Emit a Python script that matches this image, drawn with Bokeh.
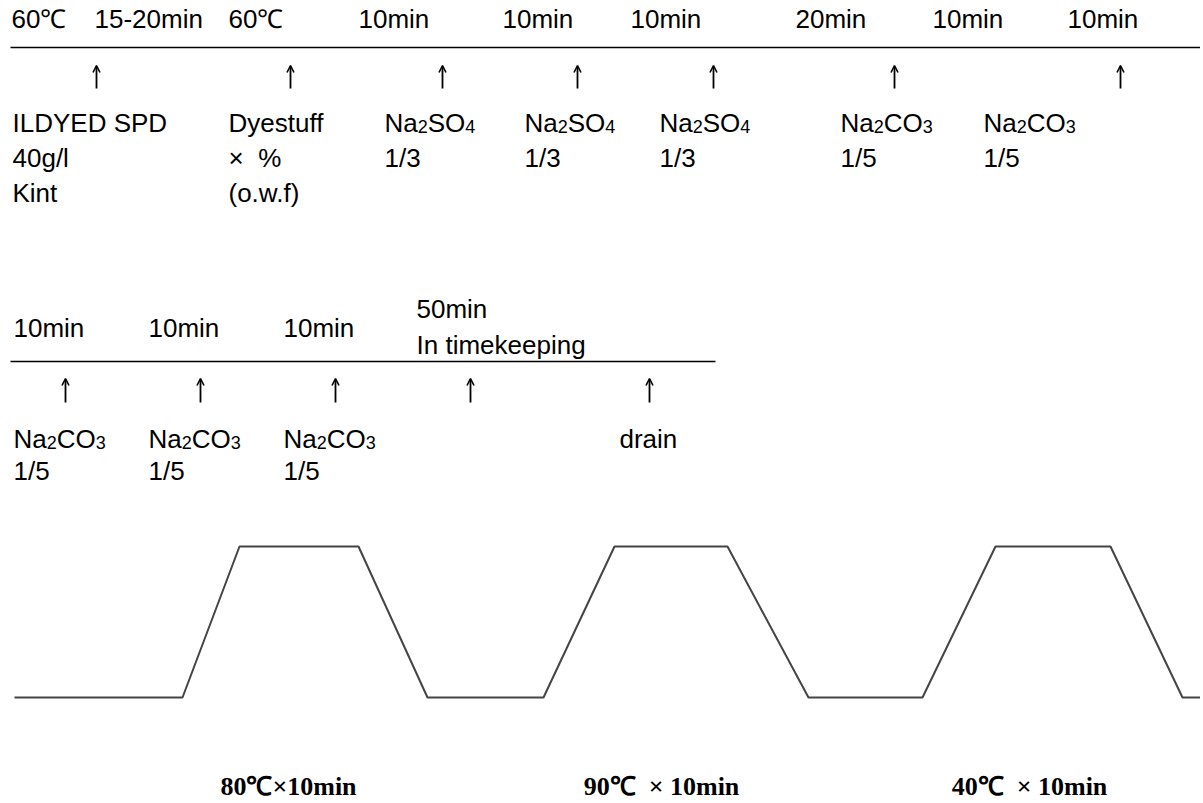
from bokeh.plotting import figure
from bokeh.models import Range1d, ColumnDataSource, Arrow, OpenHead
from bokeh.core.properties import value
from bokeh.embed import file_html
from bokeh.resources import INLINE

# ---- data (process schedule) ----
row1_times = ["60℃", "15-20min", "60℃", "10min", "10min", "10min", "20min", "10min", "10min"]
row1_pos = [11, 94, 228, 358, 502, 630, 795, 932, 1067]
row1_arrows = [96, 290, 442, 577, 713, 894, 1120]
row1_adds_pos = [12, 228, 384, 524, 659, 840, 983]
row1_adds_l1 = ["ILDYED SPD", "Dyestuff", "Na_2SO_4", "Na_2SO_4", "Na_2SO_4", "Na_2CO_3", "Na_2CO_3"]
row1_adds_l2 = ["40g/l", "×\u00a0\u00a0%", "1/3", "1/3", "1/3", "1/5", "1/5"]
row1_adds_l3 = ["Kint", "(o.w.f)", "", "", "", "", ""]

row2_times = ["10min", "10min", "10min"]
row2_pos = [13, 148, 283]
row2_hold = ["50min", "In timekeeping"]
row2_hold_pos = 416
row2_arrows = [65, 200, 335, 470, 649]
row2_adds_pos = [13, 148, 283, 619]
row2_adds_l1 = ["Na_2CO_3", "Na_2CO_3", "Na_2CO_3", "drain"]
row2_adds_l2 = ["1/5", "1/5", "1/5", ""]

# wash profile: time axis points and level (0 = low, 1 = high)
profile_t = [14, 182, 239, 358, 427, 543, 614, 727, 808, 922, 995, 1110, 1182, 1210]
profile_level = [0, 0, 1, 1, 0, 0, 1, 1, 0, 0, 1, 1, 0, 0]
wash_labels = ["80℃×10min", "90℃\u00a0 × 10min", "40℃\u00a0 × 10min"]
wash_pos = [288, 661, 1029]

# ---- figure ----
W, H = 1200, 800
p = figure(width=W, height=H, output_backend="svg", toolbar_location=None,
           x_range=Range1d(0, W), y_range=Range1d(H, 0),
           min_border=0)
p.axis.visible = False
p.grid.visible = False
p.outline_line_color = None
p.background_fill_color = "white"
p.border_fill_color = "white"

FONT = value("Liberation Sans")
FSN = 26
FS = f"{FSN}px"
SUBN = 18
SHIFT = -10  # compensates the renderer's baseline placement

# Arial/Liberation Sans advance widths (em units)
ADV = {"N": .722, "a": .556, "S": .667, "O": .778, "C": .722, "2": .556, "3": .556, "4": .556}

def txt(xs, ys, texts, **kw):
    src = ColumnDataSource(dict(x=xs, y=[v + SHIFT for v in ys], t=texts))
    args = dict(text_font=FONT, text_font_size=FS, text_color="black",
                text_baseline="alphabetic", text_align="left")
    args.update(kw)
    p.text(x="x", y="y", text="t", source=src, **args)

def rich(xs, ys, texts):
    """Plain labels, or formulas where '_d' marks a subscript digit."""
    main = dict(x=[], y=[], t=[], dx=[])
    sub = dict(x=[], y=[], t=[], dx=[])
    for x, y, s in zip(xs, ys, texts):
        y = y + SHIFT
        if "_" not in s:
            main["x"].append(x); main["y"].append(y); main["t"].append(s); main["dx"].append(0)
            continue
        off = 0.0
        parts = s.split("_")
        for i, part in enumerate(parts):
            if i == 0:
                seg = part
            else:
                d, seg = part[0], part[1:]
                sub["x"].append(x); sub["y"].append(y + 4); sub["t"].append(d); sub["dx"].append(off)
                off += ADV[d] * SUBN
            if seg:
                main["x"].append(x); main["y"].append(y); main["t"].append(seg); main["dx"].append(off)
                off += sum(ADV.get(c, .6) for c in seg) * FSN
    p.text(x="x", y="y", text="t", x_offset="dx", source=ColumnDataSource(main),
           text_font=FONT, text_font_size=FS, text_color="black",
           text_baseline="alphabetic", text_align="left")
    p.text(x="x", y="y", text="t", x_offset="dx", source=ColumnDataSource(sub),
           text_font=FONT, text_font_size=f"{SUBN}px", text_color="black",
           text_baseline="alphabetic", text_align="left")

def arrows(xs, y_bottom, y_top):
    src = ColumnDataSource(dict(x=xs, y0=[y_bottom] * len(xs), y1=[y_top] * len(xs)))
    p.add_layout(Arrow(end=OpenHead(size=7, line_width=1.6, line_color="black"),
                       x_start="x", y_start="y0", x_end="x", y_end="y1",
                       line_width=1.8, line_color="black", source=src))

# block 1
txt(row1_pos, [28] * len(row1_pos), row1_times)
p.segment(x0=[10], y0=[47], x1=[1200], y1=[47], line_color="black", line_width=1.5)
arrows(row1_arrows, 88, 65)
rich(row1_adds_pos, [132] * len(row1_adds_pos), row1_adds_l1)
txt(row1_adds_pos, [167] * len(row1_adds_pos), row1_adds_l2)
txt(row1_adds_pos, [202] * len(row1_adds_pos), row1_adds_l3)

# block 2
txt(row2_pos, [337] * len(row2_pos), row2_times)
txt([row2_hold_pos] * 2, [318, 354], row2_hold)
p.segment(x0=[10], y0=[361], x1=[715], y1=[361], line_color="black", line_width=1.5)
arrows(row2_arrows, 402, 378)
rich(row2_adds_pos, [448] * len(row2_adds_pos), row2_adds_l1)
txt(row2_adds_pos, [480] * len(row2_adds_pos), row2_adds_l2)

# wash profile
low_y, high_y = 697, 546
py = [high_y if lv else low_y for lv in profile_level]
p.line(profile_t, py, line_color="#444444", line_width=2)

txt(wash_pos, [796] * 3, wash_labels, text_font=value("Liberation Serif"),
    text_font_style="bold", text_font_size="26px", text_align="center")

open("out.html", "w").write(file_html(p, INLINE))
